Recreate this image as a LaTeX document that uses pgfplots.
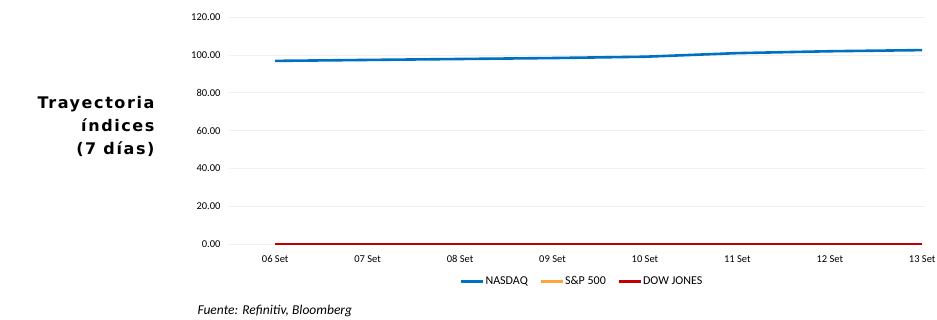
\documentclass[border=0pt]{standalone}
\usepackage{pgfplots}
\pgfplotsset{compat=1.18}
\usepackage{fontspec}
\setmainfont{Carlito}
\newfontfamily\titlefont[LetterSpace=10]{DejaVu Sans}
\definecolor{nas}{HTML}{0070C0}
\definecolor{spx}{HTML}{FFA33A}
\definecolor{dow}{HTML}{C00000}
\begin{document}
\begin{tikzpicture}[x=1pt,y=1pt]
\useasboundingbox (0,0) rectangle (937,319);
\node[anchor=east,align=right,font=\titlefont\bfseries\fontsize{16}{22.8}\selectfont] at (158,192.5) {Trayectoria\\índices\\(7 días)};
\begin{axis}[
  at={(229pt,75pt)}, anchor=south west,
  scale only axis, width=696pt, height=227pt,
  xmin=-0.5, xmax=7.03, ymin=0, ymax=120,
  axis line style={draw=none},
  tick style={draw=none},
  ytick={0,20,...,120},
  ymajorgrids, grid style={draw=black!6, line width=0.6pt},
  yticklabel style={font=\fontsize{10.5}{11}\selectfont, xshift=-5pt, /pgf/number format/.cd, fixed, fixed zerofill, precision=2},
  /pgf/number format/assume math mode=true,
  xtick={0,...,7},
  xticklabels={06 Set,07 Set,08 Set,09 Set,10 Set,11 Set,12 Set,13 Set},
  xticklabel style={font=\fontsize{10.5}{11}\selectfont, text height=7pt, text depth=1pt, yshift=-8pt},
  legend style={at={(0.507,-0.165)}, anchor=center, draw=none, font=\fontsize{12}{13}\selectfont, legend columns=3, nodes={inner xsep=1pt},
    /tikz/every odd column/.append style={column sep=0pt},
    /tikz/every even column/.append style={column sep=11pt}},
  legend cell align=left,
  legend image code/.code={\draw[#1, line width=2.2pt] (0pt,0pt) -- (22pt,0pt);},
  clip=false,
]
\addplot[nas, line width=2.6pt] coordinates {(0,96.8) (1,97.3) (2,97.8) (3,98.3) (4,99.0) (5,100.9) (6,101.9) (7,102.5)};
\addlegendentry{NASDAQ}
\addplot[spx, line width=2.6pt] coordinates {(0,0) (1,0) (2,0) (3,0) (4,0) (5,0) (6,0) (7,0)};
\addlegendentry{S\&P 500}
\addplot[dow, line width=2.6pt] coordinates {(0,0) (1,0) (2,0) (3,0) (4,0) (5,0) (6,0) (7,0)};
\addlegendentry{DOW JONES}
\end{axis}
\node[anchor=base west, font=\itshape\fontsize{13.5}{14}\selectfont] at (194,5) {Fuente: Refinitiv, Bloomberg};
\end{tikzpicture}
\end{document}
